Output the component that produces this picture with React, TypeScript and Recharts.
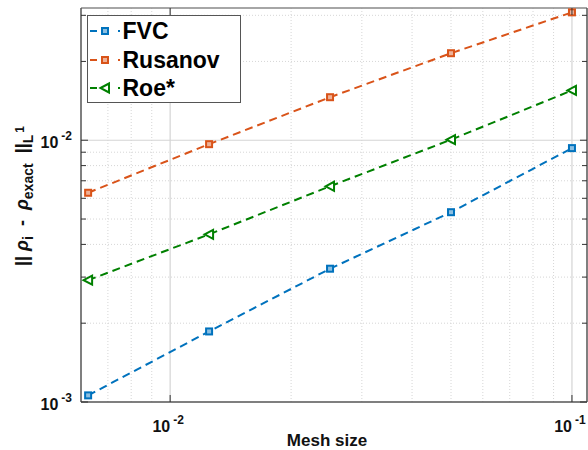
import React from "react";
import {
  LineChart,
  Line,
  XAxis,
  YAxis,
  Legend,
  ReferenceLine,
} from "recharts";

const meshSize = [0.00625, 0.0125, 0.025, 0.05, 0.1];
const fvcErr = [0.00106, 0.00186, 0.00323, 0.00531, 0.00933];
const rusanovErr = [0.0063, 0.00966, 0.0146, 0.0215, 0.0308];
const roeErr = [0.00292, 0.00437, 0.00667, 0.01005, 0.0155];

const xTicks = [0.01, 0.1];
const yTicks = [0.001, 0.002, 0.003, 0.004, 0.005, 0.006, 0.007, 0.008, 0.009, 0.01, 0.02, 0.03];
const xGridMinor = [0.007, 0.008, 0.009, 0.02, 0.03, 0.04, 0.05, 0.06, 0.07, 0.08, 0.09];
const xGridMajor = [0.01, 0.1];
const yGridMinor = [0.002, 0.003, 0.004, 0.005, 0.006, 0.007, 0.008, 0.009, 0.02, 0.03];
const yGridMajor = [0.01];

const data = meshSize.map((h, i) => ({
  h,
  fvc: fvcErr[i],
  rusanov: rusanovErr[i],
  roe: roeErr[i],
}));

const FONT = "'Liberation Sans', Arial, Helvetica, sans-serif";
const AXIS = "#555";
const BLUE = "#0072BD";
const ORANGE = "#D95319";
const GREEN = "#008000";

const isDecade = (v: number) => Math.abs(Math.log10(v) - Math.round(Math.log10(v))) < 1e-6;

function Square({ cx, cy, color }: any) {
  if (cx == null || cy == null) return null;
  return (
    <g>
      <rect x={cx - 3.5} y={cy - 3.5} width={7} height={7} fill="#fff" />
      <rect x={cx - 3} y={cy - 3} width={6} height={6} fill={color} fillOpacity={0.45} stroke={color} strokeWidth={2} />
    </g>
  );
}

function TriLeft({ cx, cy, color }: any) {
  if (cx == null || cy == null) return null;
  return (
    <polygon
      points={`${cx - 4.5},${cy} ${cx + 4},${cy - 4.5} ${cx + 4},${cy + 4.5}`}
      fill="#fff"
      stroke={color}
      strokeWidth={2}
    />
  );
}

const markers: Record<string, any> = { fvc: Square, rusanov: Square, roe: TriLeft };

// left axis: label at x, axis line at x + 9, ticks drawn inward
function YTick({ x, y, payload }: any) {
  const v = payload.value;
  const major = isDecade(v);
  const ax = x + 9;
  return (
    <g>
      <line x1={ax} y1={y} x2={ax + (major ? 7 : 5)} y2={y} stroke="#333" strokeWidth={1} />
      {major && (
        <text x={x} y={y + 8} textAnchor="end" fontFamily={FONT} fontWeight="bold" fontSize={16} fill="#111">
          <tspan>10</tspan>
          <tspan dx={3} dy={-8} fontSize={12}>{Math.round(Math.log10(v))}</tspan>
        </text>
      )}
    </g>
  );
}

function YTickRight({ x, y, payload }: any) {
  const major = isDecade(payload.value);
  return <line x1={x - (major ? 7 : 5)} y1={y} x2={x} y2={y} stroke="#333" strokeWidth={1} />;
}

// bottom axis: label at y, axis line at y - 20
function XTick({ x, y, payload }: any) {
  const e = Math.round(Math.log10(payload.value));
  const ay = y - 20;
  return (
    <g>
      <line x1={x} y1={ay} x2={x} y2={ay - 7} stroke="#333" strokeWidth={1} />
      <text x={x - 2} y={y + 10} textAnchor="middle" fontFamily={FONT} fontWeight="bold" fontSize={16} fill="#111">
        <tspan>10</tspan>
        <tspan dx={3} dy={-8} fontSize={12}>{e}</tspan>
      </text>
    </g>
  );
}

function XTickTop({ x, y }: any) {
  return <line x1={x} y1={y} x2={x} y2={y + 7} stroke="#333" strokeWidth={1} />;
}

function YLabel() {
  return (
    <text
      x={28}
      y={196}
      transform="rotate(-90, 28, 196)"
      textAnchor="middle"
      fontFamily={FONT}
      fontWeight="bold"
      fontSize={18}
      fill="#111"
      style={{ whiteSpace: "pre" }}
    >
      <tspan>{"|| "}</tspan>
      <tspan fontStyle="italic">ρ</tspan>
      <tspan dy={5} fontSize={14}>i</tspan>
      <tspan dy={-5}>{"  -  "}</tspan>
      <tspan fontStyle="italic">ρ</tspan>
      <tspan dy={5} fontSize={14}>exact</tspan>
      <tspan dy={-5}>{"  ||"}</tspan>
      <tspan dy={5} fontSize={14}>L</tspan>
      <tspan dx={2} dy={-9} fontSize={12}>1</tspan>
    </text>
  );
}

function XLabel() {
  return (
    <text x={327} y={446} textAnchor="middle" fontFamily={FONT} fontWeight="bold" fontSize={17} fill="#111">
      Mesh size
    </text>
  );
}

const series = [
  { key: "fvc", name: "FVC", color: BLUE },
  { key: "rusanov", name: "Rusanov", color: ORANGE },
  { key: "roe", name: "Roe*", color: GREEN },
];
const order = series.map((s) => s.key);

function LegendBox({ payload }: any) {
  const items = [...(payload || [])].sort((a: any, b: any) => order.indexOf(a.dataKey) - order.indexOf(b.dataKey));
  return (
    <div
      style={{
        width: 154,
        height: 88,
        boxSizing: "border-box",
        border: "1.5px solid #555",
        background: "#fff",
        padding: "1px 0 1px 1.5px",
        fontFamily: FONT,
        fontWeight: "bold",
        fontSize: 23,
        color: "#000",
      }}
    >
      {items.map((p: any) => {
        const M = markers[p.dataKey];
        return (
          <div key={p.dataKey} style={{ height: 28.5, display: "flex", alignItems: "center" }}>
            <svg width={33} height={20} style={{ flex: "none" }}>
              <line x1={0} y1={10} x2={7} y2={10} stroke={p.color} strokeWidth={2} />
              <M cx={15} cy={10} color={p.color} />
              <line x1={28} y1={10} x2={30} y2={10} stroke={p.color} strokeWidth={2} />
            </svg>
            <span style={{ lineHeight: "28px" }}>{p.value}</span>
          </div>
        );
      })}
    </div>
  );
}

export default function App() {
  return (
    <div style={{ position: "absolute", left: 0, top: 0, width: 588, height: 450, background: "#fff" }}>
      <LineChart width={588} height={450} data={data} margin={{ top: 7, right: 0, bottom: 0, left: 0 }}>
        <XAxis
          dataKey="h"
          type="number"
          scale="log"
          domain={[0.006, 0.109]}
          allowDataOverflow
          ticks={xTicks}
          height={48}
          stroke={AXIS}
          strokeWidth={1.5}
          tickLine={false}
          tickSize={0}
          tickMargin={20}
          tick={(p: any) => <XTick {...p} />}
          label={{ content: () => <XLabel /> }}
        />
        <XAxis
          xAxisId="top"
          dataKey="h"
          type="number"
          scale="log"
          orientation="top"
          domain={[0.006, 0.109]}
          allowDataOverflow
          ticks={xTicks}
          height={1}
          stroke="#888"
          strokeWidth={1.5}
          tickLine={false}
          tickSize={0}
          tickMargin={0}
          tick={(p: any) => <XTickTop {...p} />}
        />
        <YAxis
          type="number"
          scale="log"
          domain={[0.001, 0.032]}
          allowDataOverflow
          ticks={yTicks}
          interval={0}
          width={81}
          stroke={AXIS}
          strokeWidth={1.5}
          tickLine={false}
          tickSize={0}
          tickMargin={9}
          tick={(p: any) => <YTick {...p} />}
          label={{ content: () => <YLabel /> }}
        />
        <YAxis
          yAxisId="right"
          orientation="right"
          type="number"
          scale="log"
          domain={[0.001, 0.032]}
          allowDataOverflow
          ticks={yTicks}
          interval={0}
          width={1}
          stroke={AXIS}
          strokeWidth={1.5}
          tickLine={false}
          tickSize={0}
          tickMargin={0}
          tick={(p: any) => <YTickRight {...p} />}
        />
        {xGridMinor.map((v) => (
          <ReferenceLine key={`xm${v}`} x={v} stroke="#d6d6d6" strokeDasharray="1 2" />
        ))}
        {yGridMinor.map((v) => (
          <ReferenceLine key={`ym${v}`} y={v} stroke="#d6d6d6" strokeDasharray="1 2" />
        ))}
        {xGridMajor.map((v) => (
          <ReferenceLine key={`xM${v}`} x={v} stroke="#d4d4d4" strokeWidth={1.2} />
        ))}
        {yGridMajor.map((v) => (
          <ReferenceLine key={`yM${v}`} y={v} stroke="#d4d4d4" strokeWidth={1.2} />
        ))}
        <Legend
          layout="vertical"
          align="center"
          verticalAlign="middle"
          content={(props: any) => <LegendBox {...props} />}
          wrapperStyle={{ position: "absolute", left: 87, top: 15, width: 154, height: 88 }}
        />
        {series.map((s) => {
          const M = markers[s.key];
          return (
            <Line
              key={s.key}
              dataKey={s.key}
              name={s.name}
              stroke={s.color}
              strokeWidth={2}
              strokeDasharray="8 5"
              dot={(p: any) => <M key={`${s.key}-${p.index}`} cx={p.cx} cy={p.cy} color={s.color} />}
              isAnimationActive={false}
            />
          );
        })}
      </LineChart>
    </div>
  );
}
